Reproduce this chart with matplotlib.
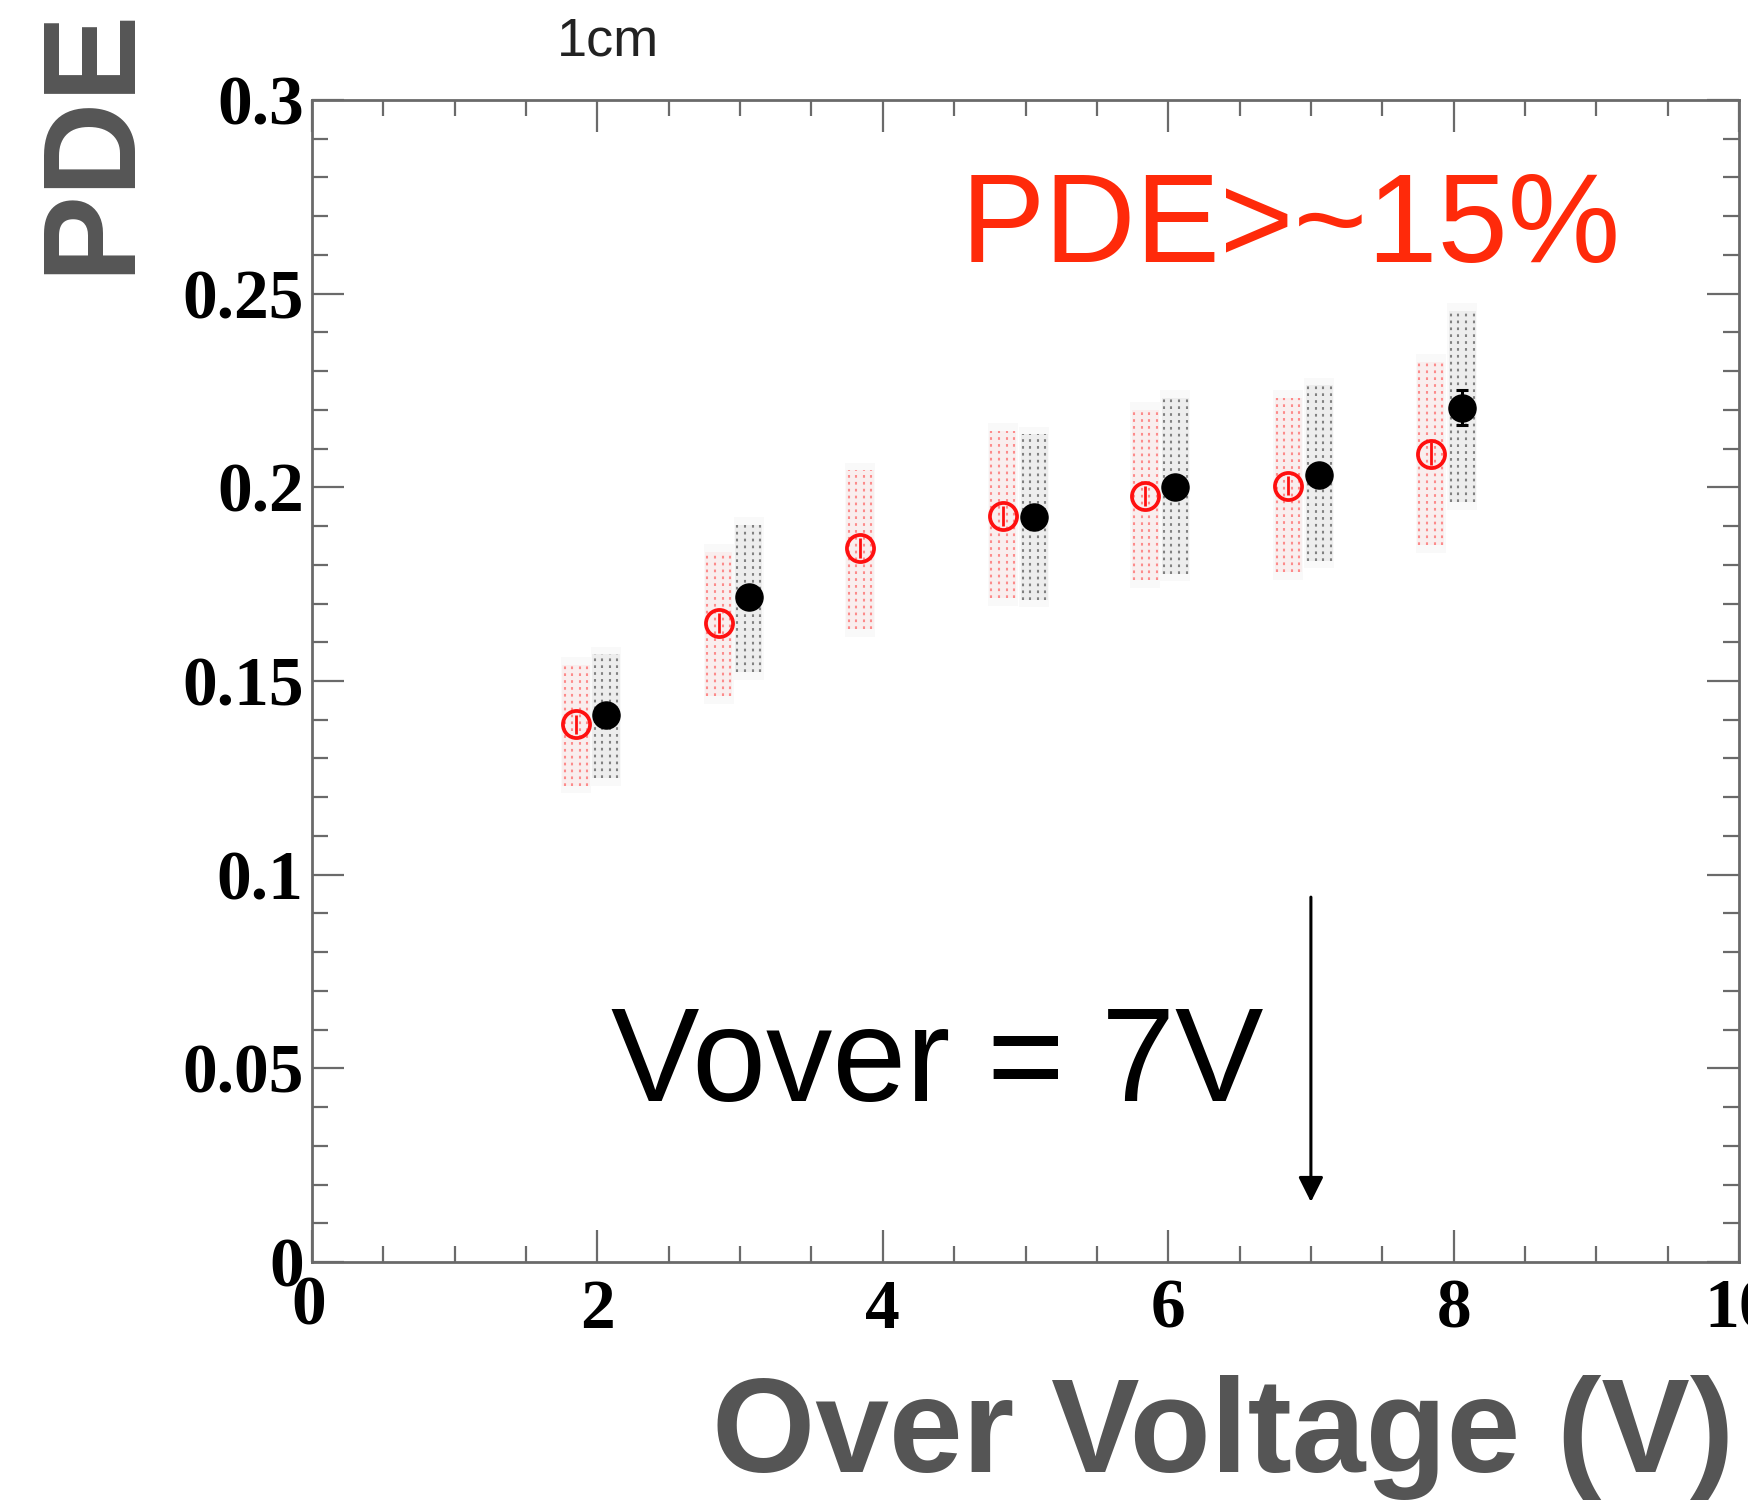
import numpy as np
import matplotlib
matplotlib.use('Agg')
import matplotlib.pyplot as plt
import matplotlib.transforms as mtransforms
from matplotlib.ticker import MultipleLocator

# Data
redX = [1.85, 2.85, 3.84, 4.84, 5.84, 6.84, 7.84]
redY = [0.1388, 0.1650, 0.1843, 0.1926, 0.1978, 0.2004, 0.2087]
redErr = [0.0025, 0.0025, 0.0025, 0.0025, 0.0025, 0.0025, 0.0030]
redLow = [0.1230, 0.1460, 0.1633, 0.1713, 0.1760, 0.1782, 0.1851]
redHigh = [0.1541, 0.1834, 0.2044, 0.2145, 0.2200, 0.2231, 0.2324]

blackX = [2.06, 3.06, 5.06, 6.05, 7.06, 8.06]
blackY = [0.1411, 0.1716, 0.1923, 0.2001, 0.2033, 0.2206]
blackErr = [0.0015, 0.0015, 0.0020, 0.0020, 0.0025, 0.0045]
blackLow = [0.1250, 0.1523, 0.1710, 0.1777, 0.1811, 0.1961]
blackHigh = [0.1569, 0.1903, 0.2137, 0.2231, 0.2263, 0.2456]

yTicks = [0, 0.05, 0.1, 0.15, 0.2, 0.25, 0.3]
yTickLabels = ['0', '0.05', '0.1', '0.15', '0.2', '0.25', '0.3']
xTicks = [0, 2, 4, 6, 8, 10]
xTickLabels = ['0', '2', '4', '6', '8', '10']

vover = 7.0

# Fonts
plt.rcParams['font.family'] = 'Liberation Serif'
plt.rcParams['font.weight'] = 'bold'

W, H = 1748, 1501
fig = plt.figure(figsize = (W/100, H/100), dpi = 100)
ax = fig.add_axes([312/W, 1 - 1262/H, (1739 - 312)/W, (1262 - 100)/H])

frameColor = '#6a6a6a'

def drawBand(x, lo, hi, color):
  halfWidth = 0.105
  ax.fill_between([x - halfWidth, x + halfWidth], lo - 0.002, hi + 0.002, color = '#999999', alpha = 0.05, lw = 0, zorder = 1)
  ax.fill_between([x - 0.095, x + 0.095], lo, hi, color = color, alpha = 0.06, lw = 0, zorder = 1)
  offsets = np.array([-0.08, -0.027, 0.027, 0.08])
  ax.vlines(x + offsets, lo, hi, colors = color, linestyles = (0, (1.3, 2.0)), linewidth = 1.5, alpha = 0.6, zorder = 2)

# Dotted systematic bands
for x, lo, hi in zip(redX, redLow, redHigh):
  drawBand(x, lo, hi, '#ff4a4a')
for x, lo, hi in zip(blackX, blackLow, blackHigh):
  drawBand(x, lo, hi, '#3a3a3a')

# Points
ax.errorbar(redX, redY, yerr = redErr, fmt = 'o', mfc = 'none', mec = '#ff1010', mew = 2.7,
            ms = 19.5, ecolor = '#ff1010', elinewidth = 2.0, capsize = 0, zorder = 5)
ax.errorbar(blackX, blackY, yerr = blackErr, fmt = 'o', mfc = 'black', mec = 'black',
            ms = 19.5, ecolor = 'black', elinewidth = 2.2, capsize = 4, capthick = 2.2, zorder = 5)

# Limits and ticks
ax.set_xlim(0, 10)
ax.set_ylim(0, 0.3)
ax.set_xticks(xTicks)
ax.set_xticklabels(xTickLabels)
ax.set_yticks(yTicks)
ax.set_yticklabels(yTickLabels)
ax.xaxis.set_minor_locator(MultipleLocator(0.5))
ax.yaxis.set_minor_locator(MultipleLocator(0.01))
ax.tick_params(which = 'both', direction = 'in', top = True, right = True, colors = frameColor)
ax.tick_params(which = 'major', length = 23, width = 1.6, labelsize = 50, labelcolor = 'black')
ax.tick_params(which = 'minor', length = 11.5, width = 1.6)
ax.tick_params(axis = 'x', which = 'major', pad = 12)
ax.tick_params(axis = 'y', which = 'major', pad = 6)
for spine in ax.spines.values():
  spine.set_color(frameColor)
  spine.set_linewidth(2.0)

# x zero label sits a little higher and left, as ROOT draws it
xZero = ax.get_xticklabels()[0]
xZero.set_transform(xZero.get_transform() + mtransforms.ScaledTranslation(-2/72, 2.5/72, fig.dpi_scale_trans))

# Arrow marking the operating over voltage
ax.annotate('', xy = (vover, 0.0155), xytext = (vover, 0.0942),
            arrowprops = dict(arrowstyle = '-|>', color = 'black', lw = 2.2, mutation_scale = 38,
                              shrinkA = 0, shrinkB = 0))

# Annotations
fig.text(961/W, 1 - 262/H, 'PDE>~15%', color = '#ff2a0a', fontsize = 91,
         family = 'Liberation Sans', weight = 'normal', ha = 'left', va = 'baseline')
fig.text(611/W, 1 - 1101/H, 'Vover = 7V', color = 'black', fontsize = 95.5,
         family = 'Liberation Sans', weight = 'normal', ha = 'left', va = 'baseline')
fig.text(557/W, 1 - 56/H, '1cm', color = '#222222', fontsize = 39,
         family = 'Liberation Sans', weight = 'normal', ha = 'left', va = 'baseline')

# Axis titles
fig.text(1734/W, 1 - 1472/H, 'Over Voltage (V)', color = '#555555', fontsize = 95.5,
         family = 'Liberation Sans', weight = 'bold', ha = 'right', va = 'baseline')
fig.text(154/W, 1 - 140/H, 'PDE', color = '#555555', fontsize = 94, rotation = 90,
         family = 'Liberation Sans', weight = 'bold', ha = 'right', va = 'center')

plt.savefig('out.png', dpi = 100)
